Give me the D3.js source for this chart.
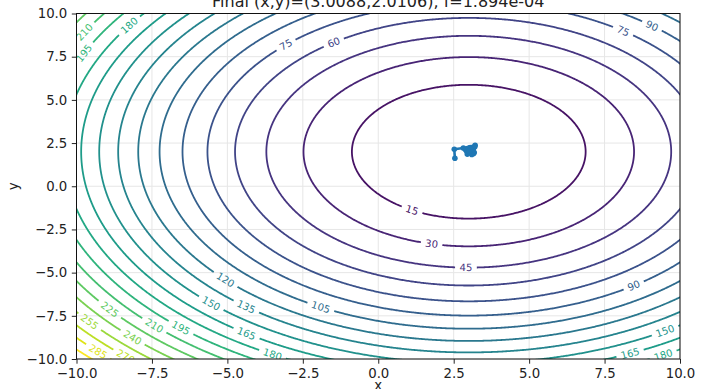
<!DOCTYPE html>
<html><head><meta charset="utf-8">
<script src="https://cdn.jsdelivr.net/npm/d3@7"></script>
<style>
html,body{margin:0;padding:0;background:#fff;}
svg{display:block;font-family:"DejaVu Sans",sans-serif;}
</style></head><body>
<svg id="chart" width="701" height="389"></svg>
<script>
// axes
const xDomain = [-10, 10];
const yDomain = [-10, 10];
const xTicks = [-10, -7.5, -5, -2.5, 0, 2.5, 5, 7.5, 10];
const yTicks = [-10, -7.5, -5, -2.5, 0, 2.5, 5, 7.5, 10];

// objective f(x,y) = (x-a)^2 + (y-b)^2
const minimum = [3, 2];
const levels = d3.range(15, 301, 15);
const colorRange = [0, 300];

// inline contour labels: level and angle (degrees) around the minimum
const labelLevels = [210, 195, 180, 75, 60, 75, 90, 15, 30, 45, 90, 150, 165, 180,
  105, 120, 135, 150, 165, 180, 195, 210, 225, 240, 255, 270, 285];
const labelAngles = [151.5, 155.9, 147.0, 134.4, 125.3, 53.8, 50.2, 240.9, 257.0, 269.2,
  305.2, 302.1, 294.6, 298.7, 241.4, 222.6, 230.6, 225.8, 235.0, 241.0, 226.9, 224.0,
  217.5, 224.0, 218.1, 226.2, 223.3];

// optimizer trajectory
const pathX = [2.54, 2.52, 2.82, 3.21, 2.98, 3.15, 2.93, 3.18, 3.05, 2.95, 3.12, 3.02,
  3.16, 2.97, 3.08, 3.20, 2.90, 3.10, 3.00, 3.14, 2.96, 3.06, 3.0088];
const pathY = [1.62, 2.14, 2.21, 2.37, 1.92, 2.18, 2.05, 1.95, 2.24, 1.86, 2.08, 2.15,
  1.90, 2.00, 1.97, 2.28, 2.10, 1.84, 2.20, 2.02, 1.94, 2.12, 2.0106];

const titleText = "Final (x,y)=(3.0088,2.0106), f=1.894e-04";
const xLabel = "x";
const yLabel = "y";

const plot = {left: 76.5, right: 680, top: 13.5, bottom: 359};
const svg = d3.select("#chart");
const x = d3.scaleLinear().domain(xDomain).range([plot.left, plot.right]);
const y = d3.scaleLinear().domain(yDomain).range([plot.bottom, plot.top]);
const color = l => d3.interpolateViridis((l - colorRange[0]) / (colorRange[1] - colorRange[0]));
const f = (px, py) => (px - minimum[0]) ** 2 + (py - minimum[1]) ** 2;

const defs = svg.append("defs");
defs.append("clipPath").attr("id", "plotClip").append("rect")
  .attr("x", plot.left).attr("y", plot.top)
  .attr("width", plot.right - plot.left).attr("height", plot.bottom - plot.top);

// grid
const grid = svg.append("g").attr("stroke", "#e6e6e6").attr("stroke-width", 1);
grid.selectAll(".gx").data(xTicks).join("line")
  .attr("x1", d => x(d)).attr("x2", d => x(d)).attr("y1", plot.top).attr("y2", plot.bottom);
grid.selectAll(".gy").data(yTicks).join("line")
  .attr("y1", d => y(d)).attr("y2", d => y(d)).attr("x1", plot.left).attr("x2", plot.right);

// sampled field, padded beyond the axes so borders fall outside the clip
const step = 0.04, g0 = -11, g1 = 11;
const n = Math.round((g1 - g0) / step) + 1;
const values = new Float64Array(n * n);
for (let j = 0; j < n; j++) for (let i = 0; i < n; i++) values[j * n + i] = f(g0 + i * step, g0 + j * step);
const contours = d3.contours().size([n, n]).thresholds(levels)(values);
const proj = d3.geoTransform({
  point(gx, gy) { this.stream.point(x(g0 + (gx - 0.5) * step), y(g0 + (gy - 0.5) * step)); }
});
const geo = d3.geoPath(proj);

// label geometry
const kx = (plot.right - plot.left) / (xDomain[1] - xDomain[0]);
const ky = (plot.bottom - plot.top) / (yDomain[1] - yDomain[0]);
const labels = labelLevels.map((lv, k) => {
  const r = Math.sqrt(lv), t = labelAngles[k] * Math.PI / 180;
  const px = x(minimum[0] + r * Math.cos(t)), py = y(minimum[1] + r * Math.sin(t));
  let a = Math.atan2(-ky * r * Math.cos(t), -kx * r * Math.sin(t)) * 180 / Math.PI;
  if (a > 90) a -= 180; if (a < -90) a += 180;
  return {lv, px, py, a};
});

const labelG = svg.append("g").attr("clip-path", "url(#plotClip)")
  .attr("font-size", 10).attr("text-anchor", "middle");
const texts = labelG.selectAll("text").data(labels).join("text")
  .attr("transform", d => `translate(${d.px},${d.py}) rotate(${d.a})`)
  .attr("dy", "0.35em").attr("fill", d => color(d.lv)).text(d => d.lv);
texts.each(function(d) { d.w = this.getComputedTextLength(); });

const mask = defs.append("mask").attr("id", "gapMask").attr("maskUnits", "userSpaceOnUse")
  .attr("x", 0).attr("y", 0).attr("width", 701).attr("height", 389);
mask.append("rect").attr("width", 701).attr("height", 389).attr("fill", "#fff");
mask.selectAll(".gap").data(labels).join("rect")
  .attr("x", d => -d.w / 2 - 4.5).attr("y", -6).attr("width", d => d.w + 9).attr("height", 12)
  .attr("transform", d => `translate(${d.px},${d.py}) rotate(${d.a})`).attr("fill", "#000");

svg.insert("g", () => labelG.node()).attr("clip-path", "url(#plotClip)")
  .append("g").attr("mask", "url(#gapMask)")
  .selectAll("path").data(contours).join("path")
  .attr("d", geo).attr("fill", "none").attr("stroke", d => color(d.value)).attr("stroke-width", 1.8);

// trajectory
const pts = pathX.map((v, i) => [v, pathY[i]]);
const traj = svg.append("g").attr("clip-path", "url(#plotClip)");
traj.append("path").attr("d", d3.line().x(d => x(d[0])).y(d => y(d[1]))(pts))
  .attr("fill", "none").attr("stroke", "#1f77b4").attr("stroke-width", 2.6)
  .attr("stroke-linejoin", "round");
traj.selectAll("circle").data(pts).join("circle")
  .attr("cx", d => x(d[0])).attr("cy", d => y(d[1])).attr("r", 2.8).attr("fill", "#1f77b4");

// axes
const fmt = d => d3.format(".1f")(d).replace("-", "\u2212");
const xAxis = svg.append("g").attr("transform", `translate(0,${plot.bottom})`)
  .call(d3.axisBottom(x).tickValues(xTicks).tickFormat(fmt).tickSize(4.7).tickPadding(4.5));
const yAxis = svg.append("g").attr("transform", `translate(${plot.left},0)`)
  .call(d3.axisLeft(y).tickValues(yTicks).tickFormat(fmt).tickSize(4.7).tickPadding(4.5));
[xAxis, yAxis].forEach(a => {
  a.select(".domain").remove();
  a.selectAll("text").attr("font-size", 13.3).attr("font-family", "DejaVu Sans").attr("fill", "#222");
  a.selectAll("line").attr("stroke", "#222").attr("stroke-width", 1);
});
svg.append("rect").attr("x", plot.left).attr("y", plot.top)
  .attr("width", plot.right - plot.left).attr("height", plot.bottom - plot.top)
  .attr("fill", "none").attr("stroke", "#111").attr("stroke-width", 1);

svg.append("text").attr("x", (plot.left + plot.right) / 2).attr("y", 7)
  .attr("text-anchor", "middle").attr("font-size", 16).attr("fill", "#222").text(titleText);
svg.append("text").attr("x", (plot.left + plot.right) / 2).attr("y", 390)
  .attr("text-anchor", "middle").attr("font-size", 13.3).attr("fill", "#222").text(xLabel);
svg.append("text").attr("transform", `translate(18,${(plot.top + plot.bottom) / 2}) rotate(-90)`)
  .attr("text-anchor", "middle").attr("font-size", 13.3).attr("fill", "#222").text(yLabel);
</script>
</body></html>
